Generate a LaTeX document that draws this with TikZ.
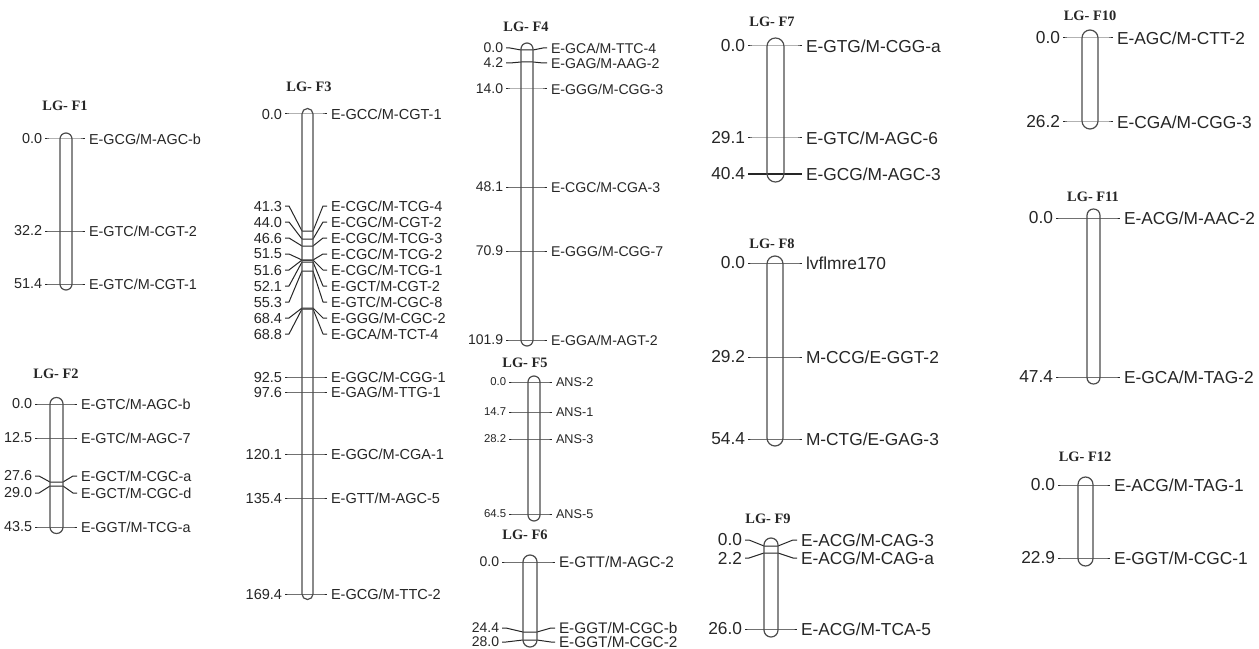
\documentclass[tikz,border=0pt]{standalone}
\usepackage{fontspec}
\setmainfont{Liberation Sans}
\newfontfamily\titlefont{Liberation Serif}

\begin{document}
\begin{tikzpicture}[x=0.75pt, y=-0.75pt, line join=round,
  lgtitle/.style={font={\titlefont\fontsize{10.8}{10.8}\selectfont\bfseries}, text=black!85, inner sep=0},
  rod/.style={draw=black!70, line width=0.9pt},
  tick/.style={draw=black!85, line width=0.75pt},
  cmlab/.style={font=\fontsize{#1}{#1}\selectfont, text=black!85, anchor=east, inner ysep=0, inner xsep=2.2pt, outer sep=0},
  mklab/.style={font=\fontsize{#1}{#1}\selectfont, text=black!85, anchor=west, inner ysep=0, inner xsep=3pt, outer sep=0}]
  \fill[white] (0,0) rectangle (1259,649);
  \useasboundingbox (0,0) rectangle (1259,649);

  %% LG-F1
  \node[lgtitle] (F1) at (65,106) {LG- F1};
  \foreach \i/\yl/\yr/\dist/\mname in {1/139/139/0.0/{E-GCG/M-AGC-b}, 2/231/231/32.2/{E-GTC/M-CGT-2}, 3/284/284/51.4/{E-GTC/M-CGT-1}}{
    \node[cmlab=10.8] (F1d\i) at (45,\yl) {\dist};
    \node[mklab=10.8] (F1m\i) at (85,\yl) {\mname};
    \draw[tick] (F1d\i.east) -- ([xshift=3pt]F1d\i.east) -- (60,\yr) -- (72,\yr) -- ([xshift=-3pt]F1m\i.west) -- (F1m\i.west);
  }
  \draw[rod, rounded corners=4.5pt] (60,133) rectangle (72,290);

  %% LG-F2
  \node[lgtitle] (F2) at (56,374) {LG- F2};
  \foreach \i/\yl/\yr/\dist/\mname in {1/404/404/0.0/{E-GTC/M-AGC-b}, 2/438/438/12.5/{E-GTC/M-AGC-7}, 3/476/482/27.6/{E-GCT/M-CGC-a}, 4/493/486/29.0/{E-GCT/M-CGC-d}, 5/527/527/43.5/{E-GGT/M-TCG-a}}{
    \node[cmlab=10.8] (F2d\i) at (35,\yl) {\dist};
    \node[mklab=10.8] (F2m\i) at (77,\yl) {\mname};
    \draw[tick] (F2d\i.east) -- ([xshift=3pt]F2d\i.east) -- (50,\yr) -- (63,\yr) -- ([xshift=-3pt]F2m\i.west) -- (F2m\i.west);
  }
  \draw[rod, rounded corners=4.8pt] (50,397.5) rectangle (63,533.5);

  %% LG-F3
  \node[lgtitle] (F3) at (309,87) {LG- F3};
  \foreach \i/\yl/\yr/\dist/\mname in {1/114/114/0.0/{E-GCC/M-CGT-1}, 2/206/231/41.3/{E-CGC/M-TCG-4}, 3/222/239/44.0/{E-CGC/M-CGT-2},
      4/238/246/46.6/{E-CGC/M-TCG-3}, 5/254/260/51.5/{E-CGC/M-TCG-2}, 6/270/260/51.6/{E-CGC/M-TCG-1}, 7/286/262/52.1/{E-GCT/M-CGT-2},
      8/302/271/55.3/{E-GTC/M-CGC-8}, 9/318/308/68.4/{E-GGG/M-CGC-2}, 10/334/309/68.8/{E-GCA/M-TCT-4}, 11/377/377/92.5/{E-GGC/M-CGG-1},
      12/392/392/97.6/{E-GAG/M-TTG-1}, 13/454/454/120.1/{E-GGC/M-CGA-1}, 14/498/498/135.4/{E-GTT/M-AGC-5}, 15/594/594/169.4/{E-GCG/M-TTC-2}}{
    \node[cmlab=10.9] (F3d\i) at (285,\yl) {\dist};
    \node[mklab=10.9] (F3m\i) at (327,\yl) {\mname};
    \draw[tick] (F3d\i.east) -- ([xshift=3pt]F3d\i.east) -- (302,\yr) -- (313,\yr) -- ([xshift=-3pt]F3m\i.west) -- (F3m\i.west);
  }
  \draw[rod, rounded corners=4.1pt] (302,108.5) rectangle (313,599.5);

  %% LG-F4
  \node[lgtitle] (F4) at (526,27) {LG- F4};
  \foreach \i/\yl/\yr/\dist/\mname in {1/48/50/0.0/{E-GCA/M-TTC-4}, 2/63/62/4.2/{E-GAG/M-AAG-2}, 3/89/89/14.0/{E-GGG/M-CGG-3},
      4/187/187/48.1/{E-CGC/M-CGA-3}, 5/251/251/70.9/{E-GGG/M-CGG-7}, 6/340/340/101.9/{E-GGA/M-AGT-2}}{
    \node[cmlab=10.5] (F4d\i) at (506,\yl) {\dist};
    \node[mklab=10.6] (F4m\i) at (547,\yl) {\mname};
    \draw[tick] (F4d\i.east) -- ([xshift=3pt]F4d\i.east) -- (521,\yr) -- (533,\yr) -- ([xshift=-3pt]F4m\i.west) -- (F4m\i.west);
  }
  \draw[rod, rounded corners=4.5pt] (521,43) rectangle (533,346);

  %% LG-F5
  \node[lgtitle] (F5) at (525,363) {LG- F5};
  \foreach \i/\yl/\yr/\dist/\mname in {1/382/382/0.0/ANS-2, 2/412/412/14.7/ANS-1, 3/439/439/28.2/ANS-3, 4/514/514/64.5/ANS-5}{
    \node[cmlab=8.5] (F5d\i) at (509,\yl) {\dist};
    \node[mklab=9.5] (F5m\i) at (552,\yl) {\mname};
    \draw[tick] (F5d\i.east) -- ([xshift=3pt]F5d\i.east) -- (528,\yr) -- (540,\yr) -- ([xshift=-3pt]F5m\i.west) -- (F5m\i.west);
  }
  \draw[rod, rounded corners=4.5pt] (528,376) rectangle (540,521);

  %% LG-F6
  \node[lgtitle] (F6) at (525,535) {LG- F6};
  \foreach \i/\yl/\yr/\dist/\mname in {1/562/562/0.0/{E-GTT/M-AGC-2}, 2/628/632/24.4/{E-GGT/M-CGC-b}, 3/642/640/28.0/{E-GGT/M-CGC-2}}{
    \node[cmlab=10.5] (F6d\i) at (502,\yl) {\dist};
    \node[mklab=11.5] (F6m\i) at (555,\yl) {\mname};
    \draw[tick] (F6d\i.east) -- ([xshift=3pt]F6d\i.east) -- (523,\yr) -- (537,\yr) -- ([xshift=-3pt]F6m\i.west) -- (F6m\i.west);
  }
  \draw[rod, rounded corners=5.2pt] (523,555) rectangle (537,647);

  %% LG-F7
  \node[lgtitle] (F7) at (772,22) {LG- F7};
  \foreach \i/\yl/\yr/\dist/\mname in {1/46/46/0.0/{E-GTG/M-CGG-a}, 2/138/138/29.1/{E-GTC/M-AGC-6}, 3/174/174/40.4/{E-GCG/M-AGC-3}}{
    \node[cmlab=13] (F7d\i) at (748,\yl) {\dist};
    \node[mklab=13] (F7m\i) at (802,\yl) {\mname};
    \draw[tick] (F7d\i.east) -- ([xshift=3pt]F7d\i.east) -- (767,\yr) -- (784,\yr) -- ([xshift=-3pt]F7m\i.west) -- (F7m\i.west);
  }
  \draw[rod, rounded corners=6.3pt] (767,38) rectangle (784,182);

  %% LG-F8
  \node[lgtitle] (F8) at (772,244) {LG- F8};
  \foreach \i/\yl/\yr/\dist/\mname in {1/263/263/0.0/lvflmre170, 2/357/357/29.2/{M-CCG/E-GGT-2}, 3/439/439/54.4/{M-CTG/E-GAG-3}}{
    \node[cmlab=13] (F8d\i) at (748,\yl) {\dist};
    \node[mklab=13] (F8m\i) at (802,\yl) {\mname};
    \draw[tick] (F8d\i.east) -- ([xshift=3pt]F8d\i.east) -- (767,\yr) -- (783,\yr) -- ([xshift=-3pt]F8m\i.west) -- (F8m\i.west);
  }
  \draw[rod, rounded corners=6pt] (767,256) rectangle (783,446);

  %% LG-F9
  \node[lgtitle] (F9) at (768,519) {LG- F9};
  \foreach \i/\yl/\yr/\dist/\mname in {1/540/546/0.0/{E-ACG/M-CAG-3}, 2/558/553/2.2/{E-ACG/M-CAG-a}, 3/629/629/26.0/{E-ACG/M-TCA-5}}{
    \node[cmlab=13] (F9d\i) at (745,\yl) {\dist};
    \node[mklab=13] (F9m\i) at (797,\yl) {\mname};
    \draw[tick] (F9d\i.east) -- ([xshift=3pt]F9d\i.east) -- (764,\yr) -- (778,\yr) -- ([xshift=-3pt]F9m\i.west) -- (F9m\i.west);
  }
  \draw[rod, rounded corners=5.2pt] (764,538) rectangle (778,637);

  %% LG-F10
  \node[lgtitle] (F10) at (1090,16) {LG- F10};
  \foreach \i/\yl/\yr/\dist/\mname in {1/38/38/0.0/{E-AGC/M-CTT-2}, 2/122/122/26.2/{E-CGA/M-CGG-3}}{
    \node[cmlab=13] (F10d\i) at (1063,\yl) {\dist};
    \node[mklab=13] (F10m\i) at (1113,\yl) {\mname};
    \draw[tick] (F10d\i.east) -- ([xshift=3pt]F10d\i.east) -- (1082,\yr) -- (1098,\yr) -- ([xshift=-3pt]F10m\i.west) -- (F10m\i.west);
  }
  \draw[rod, rounded corners=6pt] (1082,30) rectangle (1098,129);

  %% LG-F11
  \node[lgtitle] (F11) at (1093,197) {LG- F11};
  \foreach \i/\yl/\yr/\dist/\mname in {1/218/218/0.0/{E-ACG/M-AAC-2}, 2/377/377/47.4/{E-GCA/M-TAG-2}}{
    \node[cmlab=13] (F11d\i) at (1056,\yl) {\dist};
    \node[mklab=13] (F11m\i) at (1120,\yl) {\mname};
    \draw[tick] (F11d\i.east) -- ([xshift=3pt]F11d\i.east) -- (1087,\yr) -- (1100,\yr) -- ([xshift=-3pt]F11m\i.west) -- (F11m\i.west);
  }
  \draw[rod, rounded corners=4.8pt] (1087,209) rectangle (1100,384);

  %% LG-F12
  \node[lgtitle] (F12) at (1085,457) {LG- F12};
  \foreach \i/\yl/\yr/\dist/\mname in {1/485/485/0.0/{E-ACG/M-TAG-1}, 2/558/558/22.9/{E-GGT/M-CGC-1}}{
    \node[cmlab=13] (F12d\i) at (1058,\yl) {\dist};
    \node[mklab=13] (F12m\i) at (1110,\yl) {\mname};
    \draw[tick] (F12d\i.east) -- ([xshift=3pt]F12d\i.east) -- (1078,\yr) -- (1093,\yr) -- ([xshift=-3pt]F12m\i.west) -- (F12m\i.west);
  }
  \draw[rod, rounded corners=5.6pt] (1078,477) rectangle (1093,566);
\end{tikzpicture}
\end{document}
